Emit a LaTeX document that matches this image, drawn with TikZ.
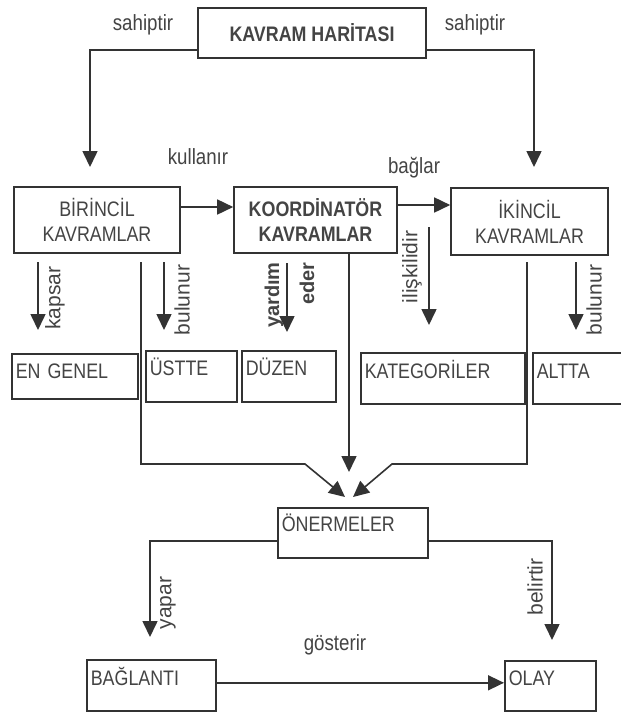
\documentclass[tikz,border=0pt]{standalone}
\usepackage{fontspec}
\setmainfont{Liberation Sans}
\newfontfamily\nfont[FakeStretch=0.85]{Liberation Sans}
\usetikzlibrary{arrows.meta}
\definecolor{ink}{HTML}{333333}
\definecolor{txt}{HTML}{444444}
\begin{document}
\begin{tikzpicture}[x=1pt,y=-1pt,
  box/.style={draw=ink, line width=1.6pt, inner sep=0pt, text=txt, font=\nfont\fontsize{21}{25}\selectfont, align=center},
  tlbox/.style={draw=ink, line width=1.6pt, inner xsep=4pt, inner ysep=0pt, anchor=north west, text=txt, font=\nfont\fontsize{21}{25}\selectfont, align=left},
  lbl/.style={text=txt, font=\nfont\fontsize{22}{26}\selectfont, inner sep=0pt},
  vlbl/.style={text=txt, font=\fontsize{21}{26}\selectfont, inner sep=0pt, rotate=90},
  arr/.style={draw=ink, line width=1.6pt, -{Triangle[length=16pt,width=15pt]}},
  ln/.style={draw=ink, line width=1.6pt}]
\useasboundingbox[fill=white] (0,0) rectangle (621,713);

% top box
\node[box, font=\nfont\bfseries\fontsize{21}{25}\selectfont, minimum width=228, minimum height=50] (km) at (312,33) {KAVRAM HARİTASI};
\coordinate (a1) at (90,167);
\coordinate (a2) at (534,167);
\draw[arr] ([yshift=-17pt]km.west) -| (a1);
\draw[arr] ([yshift=-17pt]km.east) -| (a2);
\node[lbl] (ls1) at (143,25) {sahiptir};
\node[lbl] (ls2) at (475,25) {sahiptir};

% second row
\node[box, minimum width=166, minimum height=66] (bir) at (97,220) {BİRİNCİL\\KAVRAMLAR};
\node[box, font=\nfont\bfseries\fontsize{21}{25}\selectfont, minimum width=163, minimum height=66] (koor) at (315.5,220) {KOORDİNATÖR\\KAVRAMLAR};
\node[box, minimum width=157, minimum height=67] (ik) at (529.5,221.5) {İKİNCİL\\KAVRAMLAR};
\draw[arr] ([yshift=13pt]bir.east) -- ([yshift=13pt]koor.west);
\draw[arr] ([yshift=15pt]koor.east) -- ([yshift=15pt]koor.east -| ik.west);
\node[lbl] (lk) at (198,157) {kullanır};
\node[lbl] (lb) at (414,168) {bağlar};

% short arrows
\coordinate (k1) at (38,262);  \coordinate (k2) at (38,330);
\coordinate (b1) at (164,262); \coordinate (b2) at (164,330);
\coordinate (y1) at (287,263); \coordinate (y2) at (287,332);
\coordinate (i1) at (429,227); \coordinate (i2) at (429,325);
\coordinate (r1) at (576,262); \coordinate (r2) at (576,330);
\draw[arr] (k1) -- (k2);
\draw[arr] (b1) -- (b2);
\draw[arr] (y1) -- (y2);
\draw[arr] (i1) -- (i2);
\draw[arr] (r1) -- (r2);
\node[vlbl] (lkap) at (55,298) {kapsar};
\node[vlbl] (lbul) at (182,300) {bulunur};
\node[vlbl, font=\bfseries\fontsize{20}{35}\selectfont, align=right] (lyar) at (289.5,295) {yardım\\eder};
\node[vlbl] (lili) at (412,267) {ilişkilidir};
\node[vlbl] (lbul2) at (594,300) {bulunur};

% third row
\node[tlbox, text width=118pt, text height=24.5pt, text depth=20.5pt] (eng) at (11,353) {EN GENEL};
\node[tlbox, text width=83pt, text height=24.5pt, text depth=26.5pt] (ust) at (145,350) {ÜSTTE};
\node[tlbox, text width=86pt, text height=24.5pt, text depth=26.5pt] (duz) at (241,350) {DÜZEN};
\node[tlbox, text width=156pt, text height=25.5pt, text depth=25.5pt] (kat) at (360,352) {KATEGORİLER};
\node[tlbox, text width=100pt, text height=25.5pt, text depth=25.5pt] (alt) at (532,352) {ALTTA};

% long lines to ONERMELER
\node[tlbox, text width=142pt, text height=23.5pt, text depth=26.5pt] (oner) at (277,507) {ÖNERMELER};
\coordinate (s1) at (141,262);
\coordinate (t1) at (345,497);
\coordinate (t2) at (349,472);
\coordinate (s3) at (527,262);
\coordinate (t3) at (353,497);
\draw[arr] (s1) |- (305,464) -- (t1);
\draw[arr] (koor.south -| t2) -- (t2);
\draw[arr] (s3) |- (392,464) -- (t3);

% bottom
\coordinate (t4) at (150,637);
\coordinate (t5) at (552,640);
\draw[arr] ([yshift=-8pt]oner.west) -| (t4);
\draw[arr] ([yshift=-8pt]oner.east) -| (t5);
\node[vlbl] (lyap) at (168,603) {yapar};
\node[vlbl] (lbel) at (535,587) {belirtir};
\node[lbl] (lgos) at (335,645) {gösterir};
\node[tlbox, text width=121pt, text height=25.5pt, text depth=25.5pt] (bag) at (86,659) {BAĞLANTI};
\node[tlbox, text width=83pt, text height=24.5pt, text depth=25.5pt] (olay) at (504,660) {OLAY};
\draw[arr] ([yshift=2.5pt]bag.east) -- ([yshift=2.5pt]bag.east -| olay.west);
\end{tikzpicture}
\end{document}
